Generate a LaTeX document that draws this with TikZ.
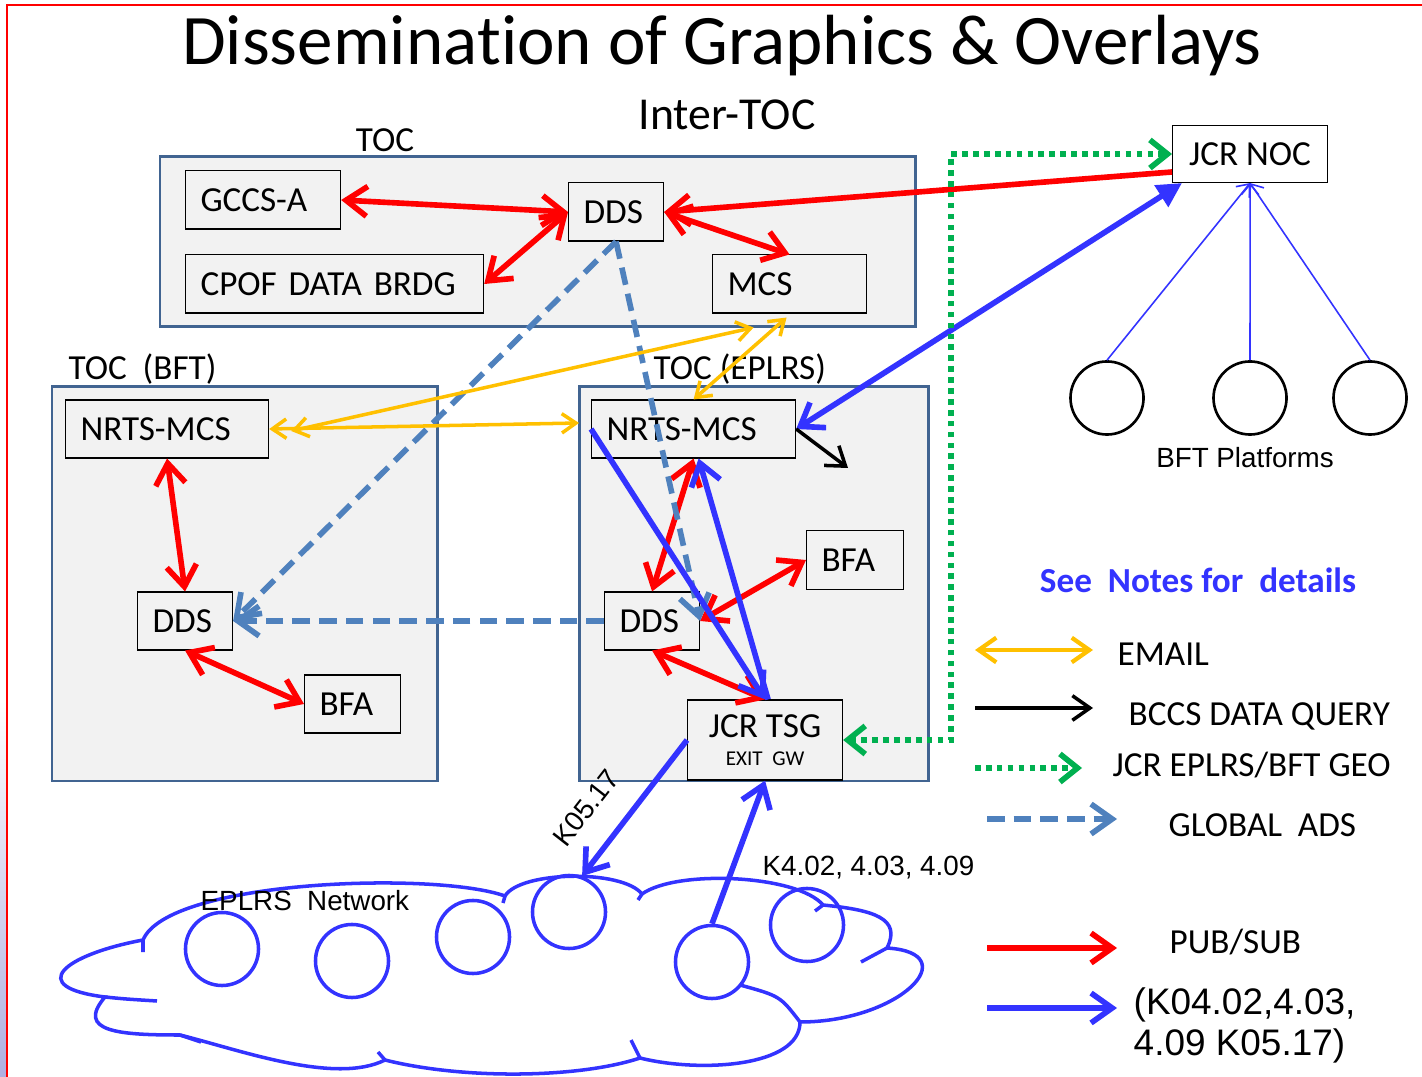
\documentclass[tikz,border=0pt]{standalone}
\usepackage{fontspec}
\setmainfont{Carlito}[RawFeature={-liga;-clig;-dlig;-calt}]
\newfontfamily\arialfont{Liberation Sans}
\usetikzlibrary{arrows.meta,calc,positioning}

\definecolor{pubred}{RGB}{255,0,0}
\definecolor{kblue}{RGB}{51,51,255}
\definecolor{mailgold}{RGB}{255,192,0}
\definecolor{geogreen}{RGB}{0,176,80}
\definecolor{adsblue}{RGB}{79,129,189}
\definecolor{tocline}{RGB}{65,100,145}
\definecolor{panel}{RGB}{242,242,242}
\definecolor{slideblue}{RGB}{175,175,225}

\tikzset{
  unit/.style={draw=black, line width=0.3pt, fill=panel, anchor=west, align=left,
    inner xsep=0.15cm, inner ysep=0pt, minimum height=0.58cm, font=\fontsize{10}{12}\selectfont},
  toc/.style={draw=tocline, line width=0.85pt, fill=panel},
  lbl/.style={inner sep=0pt, font=\fontsize{10}{12}\selectfont},
  small/.style={inner sep=0pt, font=\arialfont\fontsize{7.9}{10}\selectfont},
  pubsub/.style={draw=pubred, line width=1.6pt, >={Straight Barb[length=6pt,width=8.5pt]}},
  kmsg/.style={draw=kblue, line width=1.6pt, >={Straight Barb[length=6pt,width=8.5pt]}},
  email/.style={draw=mailgold, line width=1pt, >={Straight Barb[length=4pt,width=5.5pt]}},
  query/.style={draw=black, line width=1pt, >={Straight Barb[length=5pt,width=7pt]}},
  geo/.style={draw=geogreen, line width=1.6pt, dash pattern=on 1.6pt off 1.5pt,
    >={Straight Barb[length=5pt,width=8pt]}},
  ads/.style={draw=adsblue, line width=1.6pt, dash pattern=on 5pt off 2.6pt,
    >={Straight Barb[length=6pt,width=8.5pt]}},
  feed/.style={draw=kblue, line width=0.45pt, >={Straight Barb[length=3pt,width=5pt]}},
  radio/.style={circle, draw=kblue, line width=1pt, minimum size=0.73cm, inner sep=0pt},
  platform/.style={circle, draw=black, line width=0.75pt, minimum size=0.73cm, inner sep=0pt},
  puff/.style={draw=kblue, line width=1pt},
}

\begin{document}
\begin{tikzpicture}[x=0.01cm, y=-0.01cm]
\useasboundingbox (0,0) rectangle (1422,1077);

% slide edge
\shade[top color=white, bottom color=slideblue] (0,700) rectangle (7,1077);
\draw[pubred, line width=0.6pt] (7,1077) -- (7,5) -- (1422,5);

\node[anchor=base, inner sep=0pt, font=\fontsize{20.2}{24}\selectfont] (title) at (722,65)
  {Dissemina\kern0pt tion of Graphics \& Overlays};
\node[anchor=base, inner sep=0pt, font=\fontsize{13}{15}\selectfont] (inter) at (727,130) {Inter-TOC};

% the three TOCs
\draw[toc] (160,157) rectangle (915,327);
\draw[toc] (52,387) rectangle (437,781);
\draw[toc] (579,387) rectangle (928,781);
\node[lbl, anchor=base] (tocA) at (385,152) {TOC};
\node[lbl, anchor=base west] (tocB) at (68,380) {TOC\ \ (BFT)};
\node[lbl, anchor=base west] (tocE) at (653,380) {TOC (EPLRS)};

\node[unit, text width=1.25cm] (gccs) at (185,200) {GCCS-A};
\node[unit, text width=2.68cm] (cpof) at (185,284) {CPOF DATA BRDG};
\node[unit, text width=0.65cm] (ddsT) at (568,212) {DDS};
\node[unit, text width=1.24cm] (mcs) at (712,284) {MCS};

\node[unit, text width=1.73cm] (nrtsB) at (65,429) {NRTS-MCS};
\node[unit, text width=0.65cm] (ddsB) at (137,621) {DDS};
\node[unit, text width=0.66cm] (bfaB) at (304,704) {BFA};

\node[unit, text width=1.74cm] (nrtsE) at (591,429) {NRTS-MCS};
\node[unit, text width=0.67cm, minimum height=0.59cm] (bfaE) at (806,560) {BFA};
\node[unit, text width=0.65cm] (ddsE) at (604,621) {DDS};
\node[unit, align=center, inner xsep=0pt, minimum width=1.55cm, minimum height=0.8cm] (tsg) at (687,740)
  {JCR TSG\\[-4pt]{\fontsize{6}{7}\selectfont EXIT\ \ GW}};

\node[unit, fill=white, align=center, inner xsep=0pt, minimum width=1.55cm, minimum height=0.57cm] (noc)
  at (1172,154) {JCR NOC};

% BFT platforms
\node[platform] (p1) at (1107,398) {};
\node[platform] (p2) at (1250,398) {};
\node[platform] (p3) at (1370,398) {};
\node[small, anchor=base] (bftp) at (1245,468) {BFT Platforms};

% EPLRS cloud
\draw[puff] (143,940)
  .. controls +(25,-60) and +(-70,-25) .. (505,896)
  .. controls +(15,-25) and +(-20,-25) .. (642,894)
  .. controls +(35,-25) and +(-25,-30) .. (823,905)
  .. controls +(50,5) and +(15,-30) .. (887,948)
  .. controls +(80,5) and +(100,0) .. (800,1022)
  .. controls +(0,45) and +(60,15) .. (640,1058)
  .. controls +(-60,20) and +(80,20) .. (385,1060)
  .. controls +(-50,25) and +(60,15) .. (180,1035)
  .. controls +(-60,0) and +(-30,35) .. (105,997)
  .. controls +(-80,-10) and +(-80,15) .. (143,940) -- cycle;
\draw[puff] (143,940) -- (143,952)
  (105,997) .. controls (125,999) .. (157,1001)
  (180,1035) -- (201,1042)
  (385,1060) -- (378,1052)
  (640,1058) -- (631,1040)
  (800,1022) .. controls (780,996) .. (740,985)
  (887,948) -- (861,962)
  (823,905) -- (815,911)
  (642,894) -- (638,900)
  (505,896) -- (503,903);
\node[radio] (r1) at (222,949) {};
\node[radio] (r2) at (352,961) {};
\node[radio] (r3) at (473,937) {};
\node[radio] (r4) at (569,912) {};
\node[radio] (r5) at (712,962) {};
\node[radio] (r6) at (807,925) {};
\node[small, anchor=base west] (net) at (200,910) {EPLRS\ \ Network};

% pub/sub
\draw[pubsub,<->] (gccs.east) -- (ddsT.west);
\draw[pubsub,<->] (cpof.east) -- (ddsT.west);
\draw[pubsub,<->] (ddsT.east) -- (mcs.north);
\draw[pubsub,->] ($(noc.west)+(0,18)$) -- (ddsT.east);
\draw[pubsub,<->] (nrtsB.south) -- (ddsB.north);
\draw[pubsub,<->] (ddsB.south) -- (bfaB.west);
\draw[pubsub,<->] (nrtsE.south) -- (ddsE.north);
\draw[pubsub,<->] (ddsE.east) -- (bfaE.west);
\draw[pubsub,<->] (ddsE.south) -- (tsg.north);

% global ads
\draw[ads,->] (ddsT.south) -- (ddsB.east);
\draw[ads,->] (ddsT.south) -- (ddsE.east);
\draw[ads,->] (ddsE.west) -- (ddsB.east);

% email
\draw[email,<->] ($(mcs.south)+(-36,14)$) -- ($(nrtsB.east)+(22,2)$);
\draw[email,<->] ($(mcs.south)+(-3,4)$) -- (nrtsE.north);
\draw[email,<->] (nrtsB.east) -- ($(nrtsE.west)+(-12,-6)$);

% K messages
\draw[kmsg,->] (nrtsE.west) -- (tsg.north);
\draw[kmsg,->] ($(tsg.north)+(3,0)$) -- ($(nrtsE.south)+(5,0)$);
\draw[kmsg,{Straight Barb[length=6pt,width=8.5pt]}-{Triangle[length=7pt,width=7pt]}]
  (nrtsE.east) -- ($(noc.south west)+(10,0)$);
\draw[kmsg,->] (tsg.west) -- (r4.70);
\draw[kmsg,->] (r5.north) -- (tsg.south);
\foreach \p in {p1,p2,p3}
  \draw[feed,->] (\p.north) -- (noc.south);
\node[small, rotate=52] (k05) at (586,808) {K05.17};
\node[small, anchor=base west] (k4) at (762,875) {K4.02, 4.03, 4.09};

% data query
\coordinate (qry) at (848,468);
\draw[query,->] (nrtsE.east) -- (qry);

% geo
\draw[geo,<->] (tsg.east) -- ++(108,0) |- (noc.west);

% legend
\node[lbl, anchor=base, text=kblue, font=\fontsize{10}{12}\selectfont\bfseries] (notes) at (1198,593)
  {See\ \ Notes for\ \ details};
\coordinate (la1) at (975,650);  \coordinate (lb1) at (1093,650);
\coordinate (la2) at (975,708);  \coordinate (lb2) at (1093,708);
\coordinate (la3) at (975,768);  \coordinate (lb3) at (1082,768);
\coordinate (la4) at (987,819);  \coordinate (lb4) at (1117,819);
\coordinate (la5) at (987,948);  \coordinate (lb5) at (1117,948);
\coordinate (la6) at (987,1008); \coordinate (lb6) at (1117,1008);
\draw[email, line width=1.2pt, >={Straight Barb[length=5pt,width=7pt]}, <->] (la1) -- (lb1);
\draw[query, >={Straight Barb[length=5pt,width=7pt]}, ->] (la2) -- (lb2);
\draw[geo, ->] (la3) -- (lb3);
\draw[ads, ->] (la4) -- (lb4);
\draw[pubsub, ->] (la5) -- (lb5);
\draw[kmsg, ->] (la6) -- (lb6);
\node[lbl, anchor=base west] (lt1) at (1117,666) {EMAIL};
\node[lbl, anchor=base west] (lt2) at (1128,726) {BCCS DATA QUERY};
\node[lbl, anchor=base west] (lt3) at (1112,777) {JCR EPLRS/BFT GEO};
\node[lbl, anchor=base west] (lt4) at (1168,837) {GLOBAL\ \ ADS};
\node[lbl, anchor=base west] (lt5) at (1169,953) {PUB/SUB};
\node[inner sep=0pt, anchor=north west, align=left, font=\arialfont\fontsize{10.5}{11.7}\selectfont] (lt6)
  at (1133,987) {(K04.02,4.03,\\4.09 K05.17)};
\end{tikzpicture}
\end{document}
